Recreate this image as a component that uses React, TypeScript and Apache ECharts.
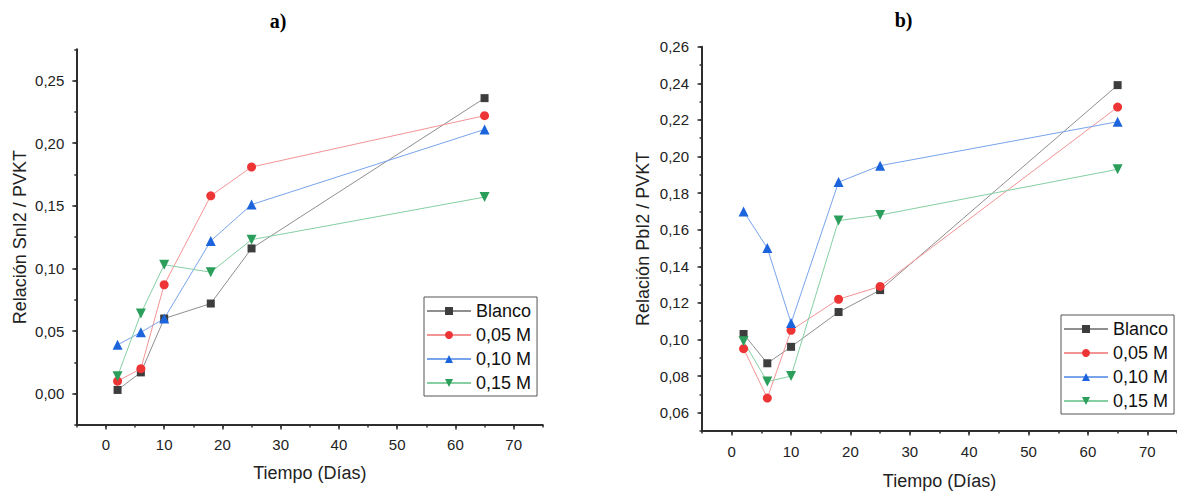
import React, { useEffect, useRef } from 'react';
import * as echarts from 'echarts';

// ---- data ----
const days = [2, 6, 10, 18, 25, 65];
const seriesNames = ['Blanco', '0,05 M', '0,10 M', '0,15 M'];

const snBlanco = [0.003, 0.017, 0.060, 0.072, 0.116, 0.236];
const sn005 = [0.010, 0.020, 0.087, 0.158, 0.181, 0.222];
const sn010 = [0.039, 0.049, 0.060, 0.122, 0.151, 0.211];
const sn015 = [0.014, 0.064, 0.103, 0.097, 0.123, 0.157];

const pbBlanco = [0.103, 0.087, 0.096, 0.115, 0.127, 0.239];
const pb005 = [0.095, 0.068, 0.105, 0.122, 0.129, 0.227];
const pb010 = [0.170, 0.150, 0.109, 0.186, 0.195, 0.219];
const pb015 = [0.099, 0.077, 0.080, 0.165, 0.168, 0.193];

const xMajorTicks = [0, 10, 20, 30, 40, 50, 60, 70];
const snMajorTicks = [0, 0.05, 0.1, 0.15, 0.2, 0.25];
const pbMajorTicks = [0.06, 0.08, 0.1, 0.12, 0.14, 0.16, 0.18, 0.2, 0.22, 0.24, 0.26];

// ---- styles ----
const FONT = '"Liberation Sans", Arial, sans-serif';
const AXIS_COLOR = '#2e2e2e';
const LABEL_COLOR = '#222';

const markStyles = [
  { symbol: 'rect', size: 8, rotate: 0, marker: '#3d3d3d', line: '#8f8f8f' },
  { symbol: 'circle', size: 9, rotate: 0, marker: '#ee3535', line: '#f39494' },
  { symbol: 'triangle', size: 10, rotate: 0, marker: '#1c64dc', line: '#78a4ec' },
  { symbol: 'triangle', size: 10, rotate: 180, marker: '#2a9e5a', line: '#86cfa2' },
];

const commaFmt = (v: number) => v.toFixed(2).replace('.', ',');

function pairs(vals: number[]) {
  return days.map((d, i) => [d, vals[i]]);
}

function xAxes(gridIndex: number, labelMargin: number, nameGap: number) {
  return [
    {
      gridIndex,
      type: 'value',
      position: 'bottom',
      min: -5,
      max: 75,
      axisLine: { onZero: false, lineStyle: { color: AXIS_COLOR, width: 2 } },
      axisTick: { customValues: xMajorTicks, length: 4.5, lineStyle: { color: AXIS_COLOR, width: 1.5 } },
      axisLabel: { customValues: xMajorTicks, margin: labelMargin, fontSize: 15, color: LABEL_COLOR, fontFamily: FONT },
      splitLine: { show: false },
      name: 'Tiempo (Días)',
      nameLocation: 'middle',
      nameGap,
      nameTextStyle: { fontSize: 18, color: LABEL_COLOR, fontFamily: FONT },
    },
    {
      gridIndex,
      type: 'value',
      position: 'bottom',
      min: -5,
      max: 75,
      interval: 5,
      axisLine: { show: false, onZero: false },
      axisTick: { length: 2.5, lineStyle: { color: AXIS_COLOR, width: 1.5 } },
      axisLabel: { show: false },
      splitLine: { show: false },
    },
  ];
}

function yAxes(
  gridIndex: number,
  min: number,
  max: number,
  minorInterval: number,
  majors: number[],
  name: string,
  labelMargin: number,
  nameGap: number
) {
  return [
    {
      gridIndex,
      type: 'value',
      position: 'left',
      min,
      max,
      axisLine: { show: true, onZero: false, lineStyle: { color: AXIS_COLOR, width: 2 } },
      axisTick: { show: true, customValues: majors, length: 4.5, lineStyle: { color: AXIS_COLOR, width: 1.5 } },
      axisLabel: {
        customValues: majors,
        margin: labelMargin,
        fontSize: 15,
        color: LABEL_COLOR,
        fontFamily: FONT,
        formatter: (v: number) => commaFmt(v),
      },
      splitLine: { show: false },
      name,
      nameLocation: 'middle',
      nameGap,
      nameTextStyle: { fontSize: 18, color: LABEL_COLOR, fontFamily: FONT },
    },
    {
      gridIndex,
      type: 'value',
      position: 'left',
      min,
      max,
      interval: minorInterval,
      axisLine: { show: false, onZero: false },
      axisTick: { show: true, length: 2.5, lineStyle: { color: AXIS_COLOR, width: 1.5 } },
      axisLabel: { show: false },
      splitLine: { show: false },
    },
  ];
}

function makeSeries(valsList: number[][], axisIndex: number) {
  return valsList.map((vals, i) => ({
    name: seriesNames[i],
    type: 'line',
    xAxisIndex: axisIndex,
    yAxisIndex: axisIndex,
    data: pairs(vals),
    symbol: markStyles[i].symbol,
    symbolSize: markStyles[i].size,
    symbolRotate: markStyles[i].rotate,
    showAllSymbol: true,
    lineStyle: { color: markStyles[i].line, width: 1 },
    itemStyle: { color: markStyles[i].marker, borderWidth: 0 },
    emphasis: { disabled: true },
  }));
}

function legendAt(left: number, top: number) {
  return {
    orient: 'vertical',
    left,
    top,
    itemWidth: 44,
    itemHeight: 10,
    itemGap: 6,
    padding: [5, 6, 4, 2],
    borderColor: '#555',
    borderWidth: 1,
    selectedMode: false,
    textStyle: { fontSize: 18, color: '#111', fontFamily: FONT },
    data: seriesNames,
  };
}

export default function App() {
  const ref = useRef<HTMLDivElement>(null);

  useEffect(() => {
    if (!ref.current) return;
    const chart = echarts.init(ref.current, undefined, { renderer: 'svg' });
    const option = {
      animation: false,
      backgroundColor: '#ffffff',
      grid: [
        { left: 76.8, top: 49.3, width: 466, height: 375.7, containLabel: false },
        { left: 702, top: 46.7, width: 479, height: 386, containLabel: false },
      ],
      xAxis: [...xAxes(0, 12, 39), ...xAxes(1, 13, 41)],
      yAxis: [
        ...yAxes(0, -0.025, 0.275, 0.025, snMajorTicks, 'Relación SnI2 / PVKT', 12.5, 48),
        ...yAxes(1, 0.05, 0.26, 0.01, pbMajorTicks, 'Relación PbI2 / PVKT', 13, 50),
      ],
      legend: [legendAt(424, 297), legendAt(1061, 315)],
      series: [
        ...makeSeries([snBlanco, sn005, sn010, sn015], 0),
        ...makeSeries([pbBlanco, pb005, pb010, pb015], 2),
      ],
      graphic: [
        {
          type: 'text',
          x: 278,
          y: 21,
          style: {
            text: 'a)',
            fontSize: 20,
            fontWeight: 'bold',
            fontFamily: '"Liberation Serif", "Times New Roman", serif',
            fill: '#000',
            align: 'center',
            verticalAlign: 'middle',
          },
        },
        {
          type: 'text',
          x: 903.6,
          y: 20,
          style: {
            text: 'b)',
            fontSize: 20,
            fontWeight: 'bold',
            fontFamily: '"Liberation Serif", "Times New Roman", serif',
            fill: '#000',
            align: 'center',
            verticalAlign: 'middle',
          },
        },
      ],
    };
    chart.setOption(option as any);
    return () => {
      chart.dispose();
    };
  }, []);

  return (
    <div
      ref={ref}
      style={{ position: 'fixed', left: 0, top: 0, width: 1177, height: 495, background: '#fff' }}
    />
  );
}
